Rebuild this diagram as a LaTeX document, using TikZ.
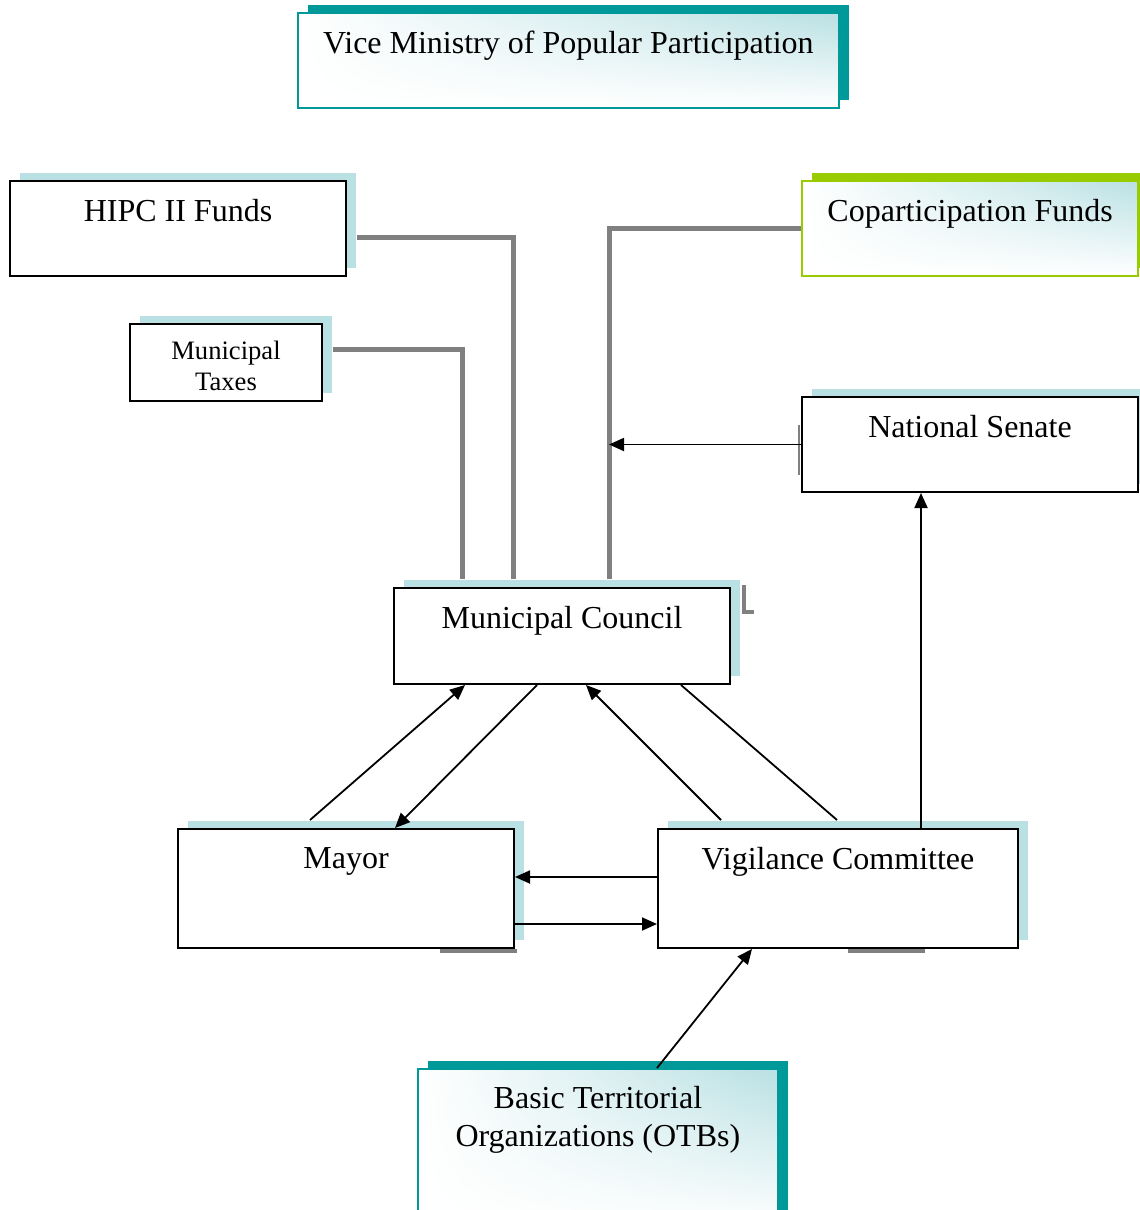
\documentclass[tikz,border=0pt]{standalone}
\usepackage{fontspec}
\setmainfont{Liberation Serif}
\usepackage{tikz}
\usetikzlibrary{arrows.meta, shadows, shadings}
\definecolor{shadeblue}{RGB}{185,224,227}
\definecolor{tealdark}{RGB}{0,153,153}
\definecolor{limeedge}{RGB}{153,204,0}
\definecolor{feedgray}{RGB}{128,128,128}
\tikzset{
  %% ---- boxes ----
  box/.style     = {rectangle, draw=black, line width=1pt, fill=white,
                    anchor=north west, inner sep=0pt,
                    general shadow={fill=shadeblue, shadow xshift=5pt,
                                    shadow yshift=4pt}},
  fadebox/.style = {rectangle, draw=#1, line width=0.9pt, fill=white,
                    anchor=north west, inner sep=0pt,
                    general shadow={fill=#1, shadow xshift=5pt,
                                    shadow yshift=4pt},
                    upper right=shadeblue, upper left=white,
                    lower left=white, lower right=white},
  fadebox/.default = tealdark,
  ttl/.style     = {anchor=north, inner sep=0pt, yshift=-9.5pt,
                    align=center, font=\fontsize{16}{18}\selectfont},
  %% ---- lines ----
  feed/.style    = {draw=feedgray, line width=2.5pt},
}
\begin{document}
\begin{tikzpicture}[
  x=0.5pt, y=-0.5pt,
  arr/.style  = {-{Triangle[length=7.5pt, width=6.5pt]}, line width=0.9pt},
  link/.style = {line width=0.9pt}
]
\clip (0,0) rectangle (1140,1210);

%% ── Top: ministry ─────────────────────────────────────────────────────────
\node[fadebox, minimum width=270.5pt, minimum height=47.5pt,
      label={[ttl]north:Vice Ministry of Popular Participation}]
  (vice) at (297,12) {};

%% ── Funding sources ───────────────────────────────────────────────────────
\node[box, minimum width=168pt, minimum height=47.5pt,
      label={[ttl]north:HIPC II Funds}]
  (hipc) at (9,180) {};

\node[box, minimum width=96pt, minimum height=38.5pt,
      label={[ttl, yshift=0.5pt, font=\fontsize{13.3}{15.5}\selectfont]north:Municipal\\Taxes}]
  (taxes) at (129,323) {};

\node[fadebox=limeedge, draw=limeedge, line width=1.1pt,
      minimum width=168pt, minimum height=47.5pt,
      label={[ttl]north:Coparticipation Funds}]
  (copart) at (801,180) {};

\node[box, minimum width=168pt, minimum height=47.5pt,
      label={[ttl]north:National Senate}]
  (senate) at (801,396) {};

%% ── Municipal level ───────────────────────────────────────────────────────
\node[box, minimum width=168pt, minimum height=48pt,
      label={[ttl]north:Municipal Council}]
  (council) at (393,587) {};

\node[box, minimum width=168pt, minimum height=59.5pt,
      label={[ttl]north:Mayor}]
  (mayor) at (177,828) {};

\node[box, minimum width=180pt, minimum height=59.5pt,
      label={[ttl]north:Vigilance Committee}]
  (vig) at (657,828) {};

\node[fadebox, minimum width=180pt, minimum height=80pt,
      label={[ttl, yshift=0.5pt, font=\fontsize{16}{19}\selectfont]north:Basic Territorial\\Organizations (OTBs)}]
  (otbs) at (417,1068) {};

%% ── Joints on top of the council ──────────────────────────────────────────
\coordinate (tj) at ([shift={(69,-8)}]council.north west);
\coordinate (hj) at ([shift={(120,-8)}]council.north west);
\coordinate (cj) at ([shift={(216,-8)}]council.north west);

%% ── Funds into the council ────────────────────────────────────────────────
\draw[feed] ([shift={(10,8.5)}]hipc.east)   -| (hj);
\draw[feed] ([shift={(10,-13.5)}]taxes.east) -| (tj);
\draw[feed] (copart.west) -| (cj);

%% leftover grey bits
\draw[feedgray, line width=1.2pt] ([shift={(-2,-20)}]senate.west) -- ([shift={(-2,30)}]senate.west);
\draw[feedgray, line width=2pt] ([shift={(13,-2)}]council.north east) |- ([shift={(23,25)}]council.north east);
\fill[feedgray] ([shift={(-75,0)}]mayor.south east) rectangle ([shift={(2,4)}]mayor.south east);
\fill[feedgray] ([shift={(-171,0)}]vig.south east) rectangle ([shift={(-94,4)}]vig.south east);

%% ── Arrows ────────────────────────────────────────────────────────────────
\draw[arr] (senate.west) -- (senate.west -| cj);
\draw[arr] ([shift={(264,0)}]vig.north west) -- ([shift={(120,0)}]senate.south west);

\draw[arr]  ([shift={(133,-8)}]mayor.north west) -- ([shift={(72,0)}]council.south west);
\draw[arr]  ([shift={(144,0)}]council.south west) -- ([shift={(218,0)}]mayor.north west);
\draw[arr]  ([shift={(64,-8)}]vig.north west)     -- ([shift={(193,0)}]council.south west);
\draw[link] ([shift={(288,0)}]council.south west) -- ([shift={(180,-8)}]vig.north west);

\draw[arr] ([shift={(0,-11.5)}]vig.west)  -- ([shift={(0,-11.5)}]mayor.east);
\draw[arr] ([shift={(0,35.5)}]mayor.east) -- ([shift={(0,35.5)}]vig.west);

\draw[arr] ([shift={(240,0)}]otbs.north west) -- ([shift={(95,0)}]vig.south west);

\end{tikzpicture}
\end{document}
